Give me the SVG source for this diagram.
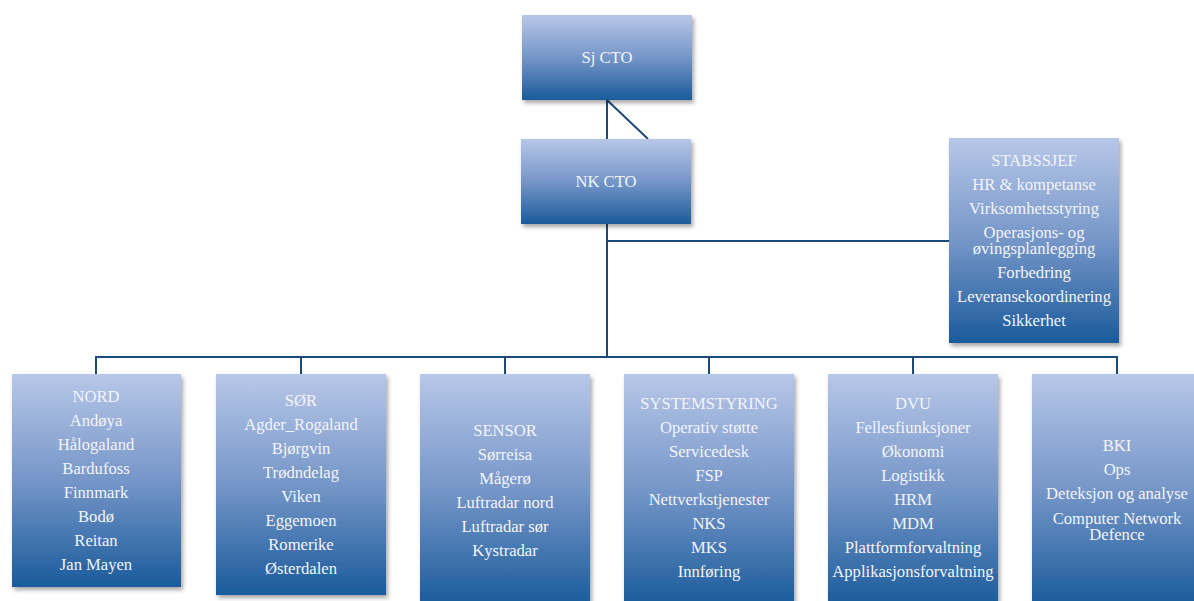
<svg xmlns="http://www.w3.org/2000/svg" width="1194" height="601" viewBox="0 0 1194 601">
<style>
.box{fill:url(#g);filter:url(#sh)}
.t{font-family:"Liberation Serif","Times New Roman",serif;font-size:16.6px;fill:#f3f4fa;text-anchor:middle}
.c{stroke:#1d4a78;stroke-width:2;fill:none}
</style>
<defs>
<linearGradient id="g" x1="0" y1="0" x2="0" y2="1">
<stop offset="0" stop-color="#b8c7e8"/>
<stop offset="0.5" stop-color="#7596c8"/>
<stop offset="1" stop-color="#1a5b9b"/>
</linearGradient>
<filter id="sh" x="-10%" y="-10%" width="130%" height="130%">
<feDropShadow dx="2" dy="3" stdDeviation="2" flood-color="#000" flood-opacity="0.35"/>
</filter>
</defs>
<g id="connectors">
<path class="c" d="M607 100V139M607 100L648 139"/>
<path class="c" d="M607 224V357M607 241H949"/>
<path class="c" d="M96 374V357H1117V374M301 357V374M505 357V374M709 357V374M913 357V374"/>
</g>
<g id="sjcto"><rect class="box" x="522" y="15" width="170" height="85"/><text class="t" x="607" y="63">Sj CTO</text></g>
<g id="nkcto"><rect class="box" x="521" y="139" width="170" height="85"/><text class="t" x="606" y="187">NK CTO</text></g>
<g id="stabssjef"><rect class="box" x="949" y="138" width="170" height="205"/>
<text class="t" x="1034" y="166">STABSSJEF</text>
<text class="t" x="1034" y="190">HR &amp; kompetanse</text>
<text class="t" x="1034" y="214">Virksomhetsstyring</text>
<text class="t" x="1034" y="238">Operasjons- og</text>
<text class="t" x="1034" y="254">øvingsplanlegging</text>
<text class="t" x="1034" y="278">Forbedring</text>
<text class="t" x="1034" y="302">Leveransekoordinering</text>
<text class="t" x="1034" y="326">Sikkerhet</text>
</g>
<g id="nord"><rect class="box" x="12" y="374" width="169" height="213"/>
<text class="t" x="96" y="402">NORD</text>
<text class="t" x="96" y="426">Andøya</text>
<text class="t" x="96" y="450">Hålogaland</text>
<text class="t" x="96" y="474">Bardufoss</text>
<text class="t" x="96" y="498">Finnmark</text>
<text class="t" x="96" y="522">Bodø</text>
<text class="t" x="96" y="546">Reitan</text>
<text class="t" x="96" y="570">Jan Mayen</text>
</g>
<g id="sor"><rect class="box" x="216" y="374" width="170" height="221"/>
<text class="t" x="301" y="406">SØR</text>
<text class="t" x="301" y="430">Agder_Rogaland</text>
<text class="t" x="301" y="454">Bjørgvin</text>
<text class="t" x="301" y="478">Trødndelag</text>
<text class="t" x="301" y="502">Viken</text>
<text class="t" x="301" y="526">Eggemoen</text>
<text class="t" x="301" y="550">Romerike</text>
<text class="t" x="301" y="574">Østerdalen</text>
</g>
<g id="sensor"><rect class="box" x="420" y="374" width="170" height="232"/>
<text class="t" x="505" y="436">SENSOR</text>
<text class="t" x="505" y="460">Sørreisa</text>
<text class="t" x="505" y="484">Mågerø</text>
<text class="t" x="505" y="508">Luftradar nord</text>
<text class="t" x="505" y="532">Luftradar sør</text>
<text class="t" x="505" y="556">Kystradar</text>
</g>
<g id="systemstyring"><rect class="box" x="624" y="374" width="170" height="232"/>
<text class="t" x="709" y="409">SYSTEMSTYRING</text>
<text class="t" x="709" y="433">Operativ støtte</text>
<text class="t" x="709" y="457">Servicedesk</text>
<text class="t" x="709" y="481">FSP</text>
<text class="t" x="709" y="505">Nettverkstjenester</text>
<text class="t" x="709" y="529">NKS</text>
<text class="t" x="709" y="553">MKS</text>
<text class="t" x="709" y="577">Innføring</text>
</g>
<g id="dvu"><rect class="box" x="828" y="374" width="170" height="232"/>
<text class="t" x="913" y="409">DVU</text>
<text class="t" x="913" y="433">Fellesfiunksjoner</text>
<text class="t" x="913" y="457">Økonomi</text>
<text class="t" x="913" y="481">Logistikk</text>
<text class="t" x="913" y="505">HRM</text>
<text class="t" x="913" y="529">MDM</text>
<text class="t" x="913" y="553">Plattformforvaltning</text>
<text class="t" x="913" y="577">Applikasjonsforvaltning</text>
</g>
<g id="bki"><rect class="box" x="1032" y="374" width="170" height="232"/>
<text class="t" x="1117" y="451">BKI</text>
<text class="t" x="1117" y="475">Ops</text>
<text class="t" x="1117" y="499">Deteksjon og analyse</text>
<text class="t" x="1117" y="524">Computer Network</text>
<text class="t" x="1117" y="540">Defence</text>
</g>
</svg>
